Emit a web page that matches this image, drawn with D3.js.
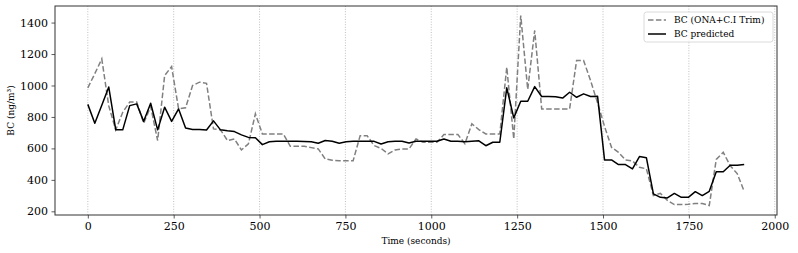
<!DOCTYPE html>
<html>
<head>
<meta charset="utf-8">
<script src="https://cdn.jsdelivr.net/npm/d3@7"></script>
<style>
  body { margin: 0; background: #fff; }
  svg text { font-family: "DejaVu Serif", serif; fill: #000; }
</style>
</head>
<body>
<div id="chart"></div>
<script>
// samples every ~20 s
const sampleStep = 20.33;

const measuredBC = [985, 1075, 1169, 870, 718, 830, 895, 895, 760, 866,
  650, 1063, 1120, 851, 858, 1000, 1021, 1014, 724, 718,
  650, 660, 590, 629, 820, 692, 692, 692, 692, 613,
  613, 613, 605, 597, 533, 525, 522, 522, 522, 681,
  681, 618, 600, 565, 590, 597, 597, 660, 639, 639,
  639, 688, 688, 688, 630, 756, 720, 692, 692, 692,
  1116, 660, 1445, 975, 1350, 851, 851, 851, 851, 851,
  1159, 1159, 1031, 890, 740, 607, 575, 527, 520, 480,
  470, 300, 314, 270, 243, 243, 245, 250, 250, 237,
  530, 575, 490, 440, 327];

const predictedBC = [880, 760, 875, 990, 718, 718, 872, 883, 772, 887,
  718, 862, 772, 851, 730, 720, 720, 717, 775, 718,
  712, 707, 686, 670, 668, 624, 642, 645, 646, 645,
  645, 644, 642, 633, 650, 645, 633, 642, 645, 645,
  645, 645, 628, 642, 645, 645, 635, 645, 645, 645,
  645, 660, 645, 645, 642, 645, 648, 617, 639, 639,
  985, 794, 900, 900, 993, 930, 930, 928, 920, 957,
  925, 947, 930, 932, 527, 527, 497, 497, 470, 548,
  540, 311, 289, 285, 314, 289, 289, 325, 300, 327,
  452, 452, 493, 493, 497];

const seriesNames = ["BC (ONA+C.I Trim)", "BC predicted"];
const xTicks = [0, 250, 500, 750, 1000, 1250, 1500, 1750, 2000];
const yTicks = [200, 400, 600, 800, 1000, 1200, 1400];

const serif = "'DejaVu Serif', serif";
const W = 798, H = 253;
const margin = {top: 6, right: 21, bottom: 38, left: 55};
const width = W - margin.left - margin.right;
const height = H - margin.top - margin.bottom;

const times = predictedBC.map((d, i) => i * sampleStep);

const svg = d3.select("#chart").append("svg")
  .attr("width", W)
  .attr("height", H);

const g = svg.append("g")
  .attr("transform", "translate(" + margin.left + "," + margin.top + ")");

// matplotlib-like 5% padding
const tExt = d3.extent(times);
const tPad = (tExt[1] - tExt[0]) * 0.05;
const x = d3.scaleLinear()
  .domain([tExt[0] - tPad, tExt[1] + tPad])
  .range([0, width]);

const yExt = d3.extent(measuredBC.concat(predictedBC));
const yPad = (yExt[1] - yExt[0]) * 0.05;
const y = d3.scaleLinear()
  .domain([yExt[0] - yPad, yExt[1] + yPad])
  .range([height, 0]);

// vertical dotted grid
g.append("g")
  .selectAll("line")
  .data(xTicks)
  .enter().append("line")
  .attr("x1", d => x(d)).attr("x2", d => x(d))
  .attr("y1", 0).attr("y2", height)
  .attr("stroke", "#b0b0b0")
  .attr("stroke-width", 0.8)
  .attr("stroke-dasharray", "1,1.6");

const xAxis = d3.axisBottom(x).tickValues(xTicks).tickFormat(d3.format("d"))
  .tickSize(3.5).tickPadding(3.5);
const yAxis = d3.axisLeft(y).tickValues(yTicks).tickFormat(d3.format("d"))
  .tickSize(3.5).tickPadding(3.5);

const gx = g.append("g")
  .attr("class", "x-axis axis")
  .attr("transform", "translate(0," + height + ")")
  .call(xAxis);
const gy = g.append("g")
  .attr("class", "y-axis axis")
  .call(yAxis);

[gx, gy].forEach(a => {
  a.attr("font-family", serif).attr("font-size", 11);
  a.select(".domain").remove();
  a.selectAll(".tick line").attr("stroke", "#333").attr("stroke-width", 0.8);
  a.selectAll(".tick text").attr("fill", "#000");
});

// frame
g.append("rect")
  .attr("width", width).attr("height", height)
  .attr("fill", "none")
  .attr("stroke", "#333")
  .attr("stroke-width", 1);

const line = d3.line()
  .x((d, i) => x(times[i]))
  .y(d => y(d));

g.append("path")
  .datum(measuredBC)
  .attr("d", line)
  .attr("fill", "none")
  .attr("stroke", "#808080")
  .attr("stroke-width", 1.5)
  .attr("stroke-dasharray", "5.5,2.4");

g.append("path")
  .datum(predictedBC)
  .attr("d", line)
  .attr("fill", "none")
  .attr("stroke", "#000")
  .attr("stroke-width", 1.5)
  .attr("stroke-linejoin", "round");

// axis labels
svg.append("text")
  .attr("x", margin.left + width / 2)
  .attr("y", 244)
  .attr("text-anchor", "middle")
  .attr("font-family", serif)
  .attr("font-size", 9)
  .text("Time (seconds)");

svg.append("text")
  .attr("transform", "translate(14," + (margin.top + height / 2) + ") rotate(-90)")
  .attr("text-anchor", "middle")
  .attr("font-family", serif)
  .attr("font-size", 9)
  .text("BC (ng/m³)");

// legend
const lg = g.append("g")
  .attr("transform", "translate(" + (width - 133) + ",6)");
lg.append("rect")
  .attr("width", 129).attr("height", 30)
  .attr("rx", 2.5)
  .attr("fill", "#fff").attr("fill-opacity", 0.8)
  .attr("stroke", "#d0d0d0").attr("stroke-width", 0.8);

const legendItems = [
  {name: seriesNames[0], color: "#808080", dash: "5.5,2.4"},
  {name: seriesNames[1], color: "#000", dash: null}
];
legendItems.forEach((d, i) => {
  const yy = 8 + i * 14;
  lg.append("line")
    .attr("x1", 4).attr("x2", 22)
    .attr("y1", yy).attr("y2", yy)
    .attr("stroke", d.color)
    .attr("stroke-width", 1.5)
    .attr("stroke-dasharray", d.dash);
  lg.append("text")
    .attr("x", 30).attr("y", yy + 3.2)
    .attr("font-family", serif)
    .attr("font-size", 9)
    .text(d.name);
});
</script>
</body>
</html>
